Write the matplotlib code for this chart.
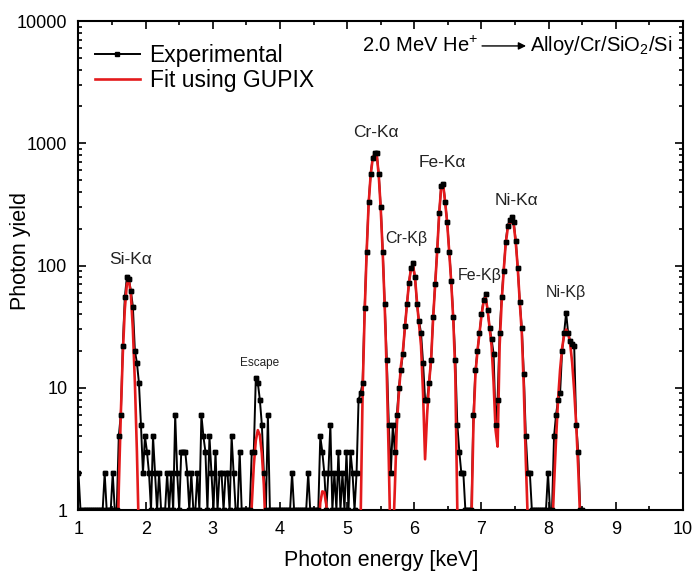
import numpy as np
import matplotlib
matplotlib.use('Agg')
import matplotlib.pyplot as plt
from matplotlib.ticker import MultipleLocator, LogLocator, FuncFormatter, NullFormatter

plt.rcParams['font.family'] = ['Liberation Sans', 'DejaVu Sans']
plt.rcParams['mathtext.fontset'] = 'custom'
plt.rcParams['mathtext.rm'] = 'Liberation Sans'
plt.rcParams['mathtext.it'] = 'Liberation Sans:italic'

# channel calibration (keV)
e_start = 1.0
e_step = 0.03

# measured counts per channel, rows of 10 channels (start energy in comment)
counts = [
    2, 1, 1, 1, 1, 1, 1, 1, 1, 1,                      # 1.00
    1, 1, 1, 2, 1, 1, 1, 2, 1, 1,                      # 1.30
    4, 6, 22, 55, 80, 78, 62, 46, 20, 16,              # 1.60
    11, 5, 2, 4, 3, 2, 1, 4, 2, 1,                     # 1.90
    2, 1, 1, 1, 2, 1, 2, 1, 6, 2,                      # 2.20
    1, 3, 3, 3, 2, 1, 2, 1, 1, 2,                      # 2.50
    1, 6, 4, 3, 1, 4, 2, 1, 3, 1,                      # 2.80
    2, 2, 1, 2, 2, 1, 4, 2, 1, 1,                      # 3.10
    3, 1, 1, 1, 1, 1, 3, 3, 12, 11,                    # 3.40
    8, 5, 2, 1, 6, 1, 1, 1, 1, 1,                      # 3.70
    1, 1, 1, 1, 1, 1, 2, 1, 1, 1,                      # 4.00
    1, 1, 1, 1, 2, 1, 1, 1, 1, 1,                      # 4.30
    4, 3, 2, 1, 2, 5, 1, 2, 1, 3,                      # 4.60
    1, 2, 1, 3, 1, 3, 2, 1, 2, 8,                      # 4.90
    9, 11, 45, 130, 330, 560, 760, 830, 825, 560,      # 5.20
    300, 130, 48, 17, 5, 2, 5, 3, 6, 10,               # 5.50
    14, 19, 32, 48, 72, 96, 104, 80, 48, 35,           # 5.80
    28, 16, 8, 8, 11, 17, 38, 70, 133, 270,            # 6.10
    450, 468, 330, 226, 130, 75, 38, 17, 5, 3,         # 6.40
    2, 2, 1, 1, 1, 1, 6, 14, 20, 28,                   # 6.70
    40, 52, 58, 43, 31, 25, 19, 5, 8, 28,              # 7.00
    55, 91, 155, 212, 235, 248, 225, 160, 95, 50,      # 7.30
    31, 13, 4, 2, 2, 1, 1, 1, 1, 1,                    # 7.60
    1, 1, 1, 2, 1, 1, 4, 6, 8, 9,                      # 7.90
    20, 28, 41, 28, 24, 23, 22, 5, 3, 1,               # 8.20
    1,                                                 # 8.50
]

# GUPIX fit on the same channels
fit = [
    0.05, 0.05, 0.05, 0.05, 0.05, 0.05, 0.05, 0.05, 0.05, 0.05,   # 1.00
    0.05, 0.05, 0.05, 0.05, 0.05, 0.05, 0.05, 0.05, 0.05, 0.2,    # 1.30
    1.5, 6, 19, 44, 70, 76, 58, 30, 11, 3,                        # 1.60
    0.6, 0.08, 0.05, 0.05, 0.05, 0.05, 0.05, 0.05, 0.05, 0.05,    # 1.90
    0.05, 0.05, 0.05, 0.05, 0.05, 0.05, 0.05, 0.05, 0.05, 0.05,   # 2.20
    0.05, 0.05, 0.05, 0.05, 0.05, 0.05, 0.05, 0.05, 0.05, 0.05,   # 2.50
    0.05, 0.05, 0.05, 0.05, 0.05, 0.05, 0.05, 0.05, 0.05, 0.05,   # 2.80
    0.05, 0.05, 0.05, 0.05, 0.05, 0.05, 0.05, 0.05, 0.05, 0.05,   # 3.10
    0.05, 0.05, 0.05, 0.05, 0.1, 0.4, 1.1, 2.3, 3.7, 4.5,         # 3.40
    4.1, 2.9, 1.6, 0.6, 0.1, 0.05, 0.05, 0.05, 0.05, 0.05,        # 3.70
    0.05, 0.05, 0.05, 0.05, 0.05, 0.05, 0.05, 0.05, 0.05, 0.05,   # 4.00
    0.05, 0.05, 0.05, 0.05, 0.05, 0.05, 0.05, 0.05, 0.2, 0.6,     # 4.30
    1.15, 1.42, 1.4, 1.1, 0.6, 0.2, 0.05, 0.05, 0.05, 0.05,       # 4.60
    0.05, 0.05, 0.05, 0.05, 0.05, 0.05, 0.05, 0.05, 0.05, 0.1,    # 4.90
    0.8, 9, 40, 128, 320, 550, 750, 820, 810, 550,                # 5.20
    290, 125, 45, 13, 2.5, 0.4, 0.5, 1.5, 5, 9,                   # 5.50
    15, 20, 31, 48, 72, 94, 100, 80, 50, 33,                      # 5.80
    22, 9, 2.6, 6, 11, 17, 37, 70, 130, 265,                      # 6.10
    440, 455, 325, 220, 128, 72, 36, 13, 1.0, 0.2,                # 6.40
    0.05, 0.05, 0.05, 0.05, 0.1, 0.8, 5, 13, 20, 28,              # 6.70
    39, 50, 55, 44, 31, 22, 11, 4.5, 3.3, 22,                     # 7.00
    50, 90, 150, 200, 222, 228, 215, 155, 95, 50,                 # 7.30
    28, 10, 2.5, 0.8, 0.1, 0.05, 0.05, 0.05, 0.05, 0.05,          # 7.60
    0.05, 0.05, 0.05, 0.05, 0.05, 0.6, 1.6, 3.8, 8, 14,           # 7.90
    21, 27, 30, 28, 23, 16, 9.5, 5, 2.2, 0.8,                     # 8.20
    0.25,                                                         # 8.50
]

energy = e_start + e_step * np.arange(len(counts))

peak_names = ['Si-Kα', 'Escape', 'Cr-Kα', 'Cr-Kβ', 'Fe-Kα', 'Fe-Kβ', 'Ni-Kα', 'Ni-Kβ']
peak_x = [1.77, 3.70, 5.43, 5.88, 6.42, 6.97, 7.52, 8.26]
peak_y = [113, 15.8, 1230, 165, 700, 83, 340, 60]
peak_fs = [12.5, 8.5, 12.5, 11.5, 12.5, 11.5, 12.5, 11.5]

fig = plt.figure(figsize=(6.92, 5.77), dpi=100)
ax = fig.add_axes([0.1134, 0.1161, 0.8736, 0.8475])

exp_line, = ax.plot(energy, counts, color='black', lw=1.4, marker='s', ms=2.6,
                    zorder=2, label='Experimental')
ax.plot(energy, fit, color='#e41a1c', lw=1.9, zorder=3, label='Fit using GUPIX')
ax.plot(energy, counts, ls='none', marker='s', ms=2.6, color='black', zorder=4)

ax.set_yscale('log')
ax.set_xlim(1, 10)
ax.set_ylim(1, 10000)

ax.xaxis.set_major_locator(MultipleLocator(1))
ax.xaxis.set_minor_locator(MultipleLocator(0.5))
ax.yaxis.set_major_locator(LogLocator(base=10, numticks=10))
ax.yaxis.set_minor_locator(LogLocator(base=10, subs=np.arange(2, 10), numticks=50))
ax.yaxis.set_major_formatter(FuncFormatter(lambda v, p: '%d' % v))
ax.yaxis.set_minor_formatter(NullFormatter())
ax.tick_params(which='both', direction='in', top=True, right=True, labelsize=13, width=1.2)
ax.tick_params(which='major', length=6, pad=8)
ax.tick_params(which='minor', length=3)
for s in ax.spines.values():
    s.set_linewidth(1.5)

ax.set_xlabel('Photon energy [keV]', fontsize=15.5)
ax.set_ylabel('Photon yield', fontsize=15.5)
ax.xaxis.set_label_coords(0.5, -0.082)
ax.yaxis.set_label_coords(-0.078, 0.53)

for name, px, py, fs in zip(peak_names, peak_x, peak_y, peak_fs):
    ax.text(px, py, name, ha='center', va='center', fontsize=fs, color='#222222')

ax.legend(loc='upper left', frameon=False, fontsize=16.5, handlelength=2.0,
          handletextpad=0.4, borderaxespad=0.3, labelspacing=0.05,
          bbox_to_anchor=(0.0, 0.985))

ax.text(0.661, 0.949, '2.0 MeV He$^{+}$', transform=ax.transAxes, ha='right', va='center',
        fontsize=14.5)
ax.annotate('', xy=(0.745, 0.949), xytext=(0.663, 0.949), xycoords='axes fraction',
            arrowprops=dict(arrowstyle='-|>', color='black', lw=1, mutation_scale=11))
ax.text(0.747, 0.949, 'Alloy/Cr/SiO$_2$/Si', transform=ax.transAxes, ha='left', va='center',
        fontsize=14.5)

fig.savefig('out.png', dpi=100)
